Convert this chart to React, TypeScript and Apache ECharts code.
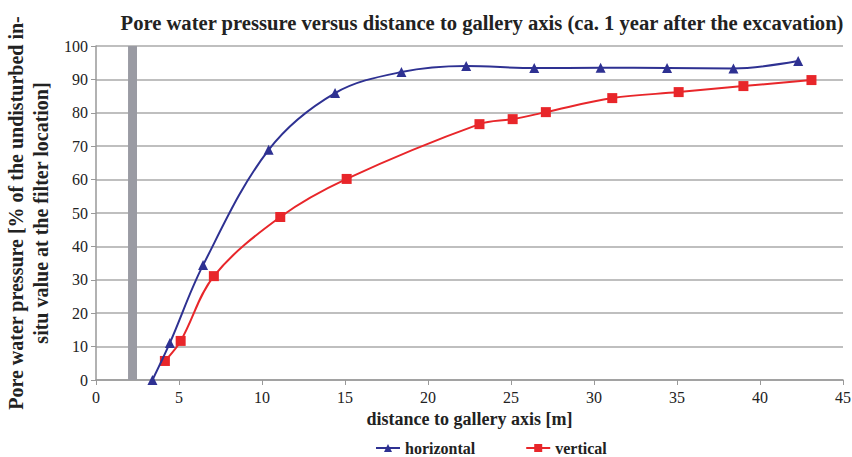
import React, { useEffect, useRef } from "react";
import * as echarts from "echarts";

const horizontalX = [3.4, 4.45, 6.45, 10.4, 14.4, 18.4, 22.3, 26.4, 30.4, 34.4, 38.4, 42.3];
const horizontalY = [0, 11.1, 34.4, 68.9, 85.9, 92.2, 94, 93.4, 93.5, 93.4, 93.3, 95.5];
const verticalX = [4.15, 5.1, 7.1, 11.1, 15.1, 23.1, 25.1, 27.1, 31.1, 35.1, 39.0, 43.1];
const verticalY = [5.7, 11.7, 31.1, 48.8, 60.2, 76.6, 78.1, 80.2, 84.4, 86.2, 88, 89.8];
const galleryBand = [1.93, 2.47];

const serif = "Liberation Serif";

export default function App() {
  const ref = useRef<HTMLDivElement>(null);
  useEffect(() => {
    if (!ref.current) return;
    const chart = echarts.init(ref.current, null, { renderer: "svg" });
    chart.setOption({
      animation: false,
      textStyle: { fontFamily: serif },
      title: {
        text: "Pore water pressure versus distance to gallery axis (ca. 1 year after the excavation)",
        left: 477,
        top: 7,
        textAlign: "center",
        textStyle: { fontFamily: serif, fontSize: 20.6, fontWeight: "bold", color: "#222" },
      },
      legend: {
        bottom: -4,
        left: 370,
        itemGap: 50,
        itemWidth: 24,
        itemHeight: 10,
        textStyle: { fontFamily: serif, fontSize: 16, fontWeight: "bold", color: "#222" },
        data: ["horizontal", "vertical"],
      },
      grid: { left: 96, right: 9, top: 46, bottom: 77, containLabel: false, outerBoundsMode: "none" },
      xAxis: {
        type: "value",
        min: 0,
        max: 45,
        interval: 5,
        name: "distance to gallery axis [m]",
        nameLocation: "middle",
        nameGap: 22,
        nameTextStyle: { fontFamily: serif, fontSize: 18, fontWeight: "bold", color: "#222" },
        axisLine: { lineStyle: { color: "#999", width: 1.5 } },
        axisTick: { show: true, inside: false, length: 5, lineStyle: { color: "#999" } },
        axisLabel: { fontFamily: serif, fontSize: 16, color: "#222", margin: 9 },
        splitLine: { show: false },
      },
      yAxis: {
        type: "value",
        min: 0,
        max: 100,
        interval: 10,
        name: "Pore water pressure [% of the undisturbed in-\nsitu value at the filter location]",
        nameLocation: "middle",
        nameGap: 33,
        nameRotate: 90,
        nameTextStyle: { fontFamily: serif, fontSize: 20, fontWeight: "bold", color: "#222", lineHeight: 25 },
        axisLine: { show: true, lineStyle: { color: "#999", width: 1.5 } },
        axisTick: { show: true, inside: false, length: 5, lineStyle: { color: "#999" } },
        axisLabel: { fontFamily: serif, fontSize: 16, color: "#222", margin: 8 },
        splitLine: { show: true, lineStyle: { color: "#aaa", width: 1.5 } },
      },
      series: [
        {
          name: "horizontal",
          type: "line",
          smooth: 0.35,
          symbol: "triangle",
          symbolSize: 10,
          data: horizontalX.map((x, i) => [x, horizontalY[i]]),
          lineStyle: { color: "#2e3192", width: 2 },
          itemStyle: { color: "#2e3192" },
          markArea: {
            silent: true,
            itemStyle: { color: "#9a9ba3", opacity: 1 },
            data: [[{ xAxis: galleryBand[0] }, { xAxis: galleryBand[1] }]],
          },
          z: 3,
        },
        {
          name: "vertical",
          type: "line",
          smooth: 0.35,
          symbol: "rect",
          symbolSize: 10,
          data: verticalX.map((x, i) => [x, verticalY[i]]),
          lineStyle: { color: "#e8262a", width: 2 },
          itemStyle: { color: "#e8262a" },
          z: 2,
        },
      ],
    });
    return () => chart.dispose();
  }, []);
  return <div ref={ref} style={{ width: 852, height: 457, position: "absolute", left: 0, top: 0, background: "#fff" }} />;
}
